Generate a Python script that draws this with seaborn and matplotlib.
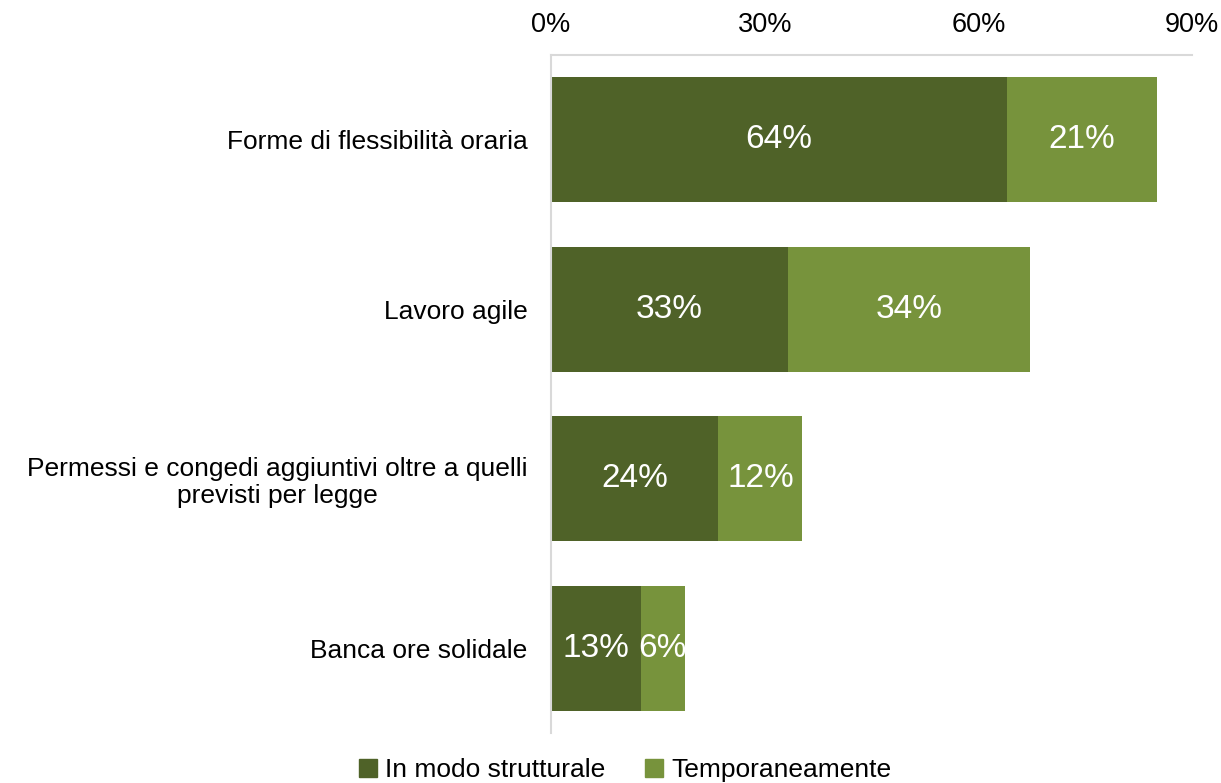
import pandas as pd
import seaborn as sns
import matplotlib.pyplot as plt
from matplotlib.patches import Patch

categories = ["Forme di flessibilità oraria",
              "Lavoro agile",
              "Permessi e congedi aggiuntivi oltre a quelli\nprevisti per legge",
              "Banca ore solidale"]
strutturale = [64.0, 33.3, 23.5, 12.6]
temporaneo = [21.1, 33.9, 11.8, 6.2]
series_names = ["In modo strutturale", "Temporaneamente"]
xticks = [0, 30, 60, 90]

dark = "#4f6228"
light = "#77933c"

sns.set_style("white")
plt.rcParams['font.family'] = ['Liberation Sans', 'DejaVu Sans']
plt.rcParams['text.color'] = 'black'
plt.rcParams['xtick.color'] = 'black'
plt.rcParams['ytick.color'] = 'black'

df = pd.DataFrame({"cat": categories, "strutturale": strutturale, "temporaneo": temporaneo})
df["totale"] = df["strutturale"] + df["temporaneo"]

fig = plt.figure(figsize=(12.21, 7.83), dpi=100)
ax = fig.add_axes([0.4513, 0.0639, 0.525, 0.8659])

# stacked: total first (light), then structural on top (dark)
sns.barplot(data=df, y="cat", x="totale", color=light, orient="h", width=0.74,
            saturation=1, linewidth=0, ax=ax)
sns.barplot(data=df, y="cat", x="strutturale", color=dark, orient="h", width=0.74,
            saturation=1, linewidth=0, ax=ax)

for i, row in df.iterrows():
    ax.text(row["strutturale"] / 2, i, f"{row['strutturale']:.0f}%", color="white",
            ha="center", va="center", fontsize=24)
    ax.text(row["strutturale"] + row["temporaneo"] / 2, i, f"{row['temporaneo']:.0f}%",
            color="white", ha="center", va="center", fontsize=24)

ax.set_xlim(0, 90)
ax.set_ylim(3.5, -0.5)
ax.set_xticks(xticks)
ax.set_xticklabels([f"{t}%" for t in xticks], fontsize=19.5)
ax.xaxis.tick_top()
ax.tick_params(axis="x", length=0, pad=12)
ax.tick_params(axis="y", length=0, pad=17, labelsize=19)
ax.set_xlabel("")
ax.set_ylabel("")
for lbl in ax.get_yticklabels():
    lbl.set_horizontalalignment("right")
    lbl.set_multialignment("center")
    lbl.set_linespacing(1.15)

for s in ["right", "bottom"]:
    ax.spines[s].set_visible(False)
ax.spines["left"].set_color("#d9d9d9")
ax.spines["top"].set_color("#d9d9d9")
ax.spines["left"].set_linewidth(1.5)
ax.spines["top"].set_linewidth(1.5)

handles = [Patch(color=dark), Patch(color=light)]
fig.legend(handles, series_names, loc="center", bbox_to_anchor=(0.512, 0.016),
           ncol=2, frameon=False, fontsize=19, handlelength=0.7, handleheight=0.7,
           handletextpad=0.3, columnspacing=1.5)

fig.savefig("out.png", dpi=100)
